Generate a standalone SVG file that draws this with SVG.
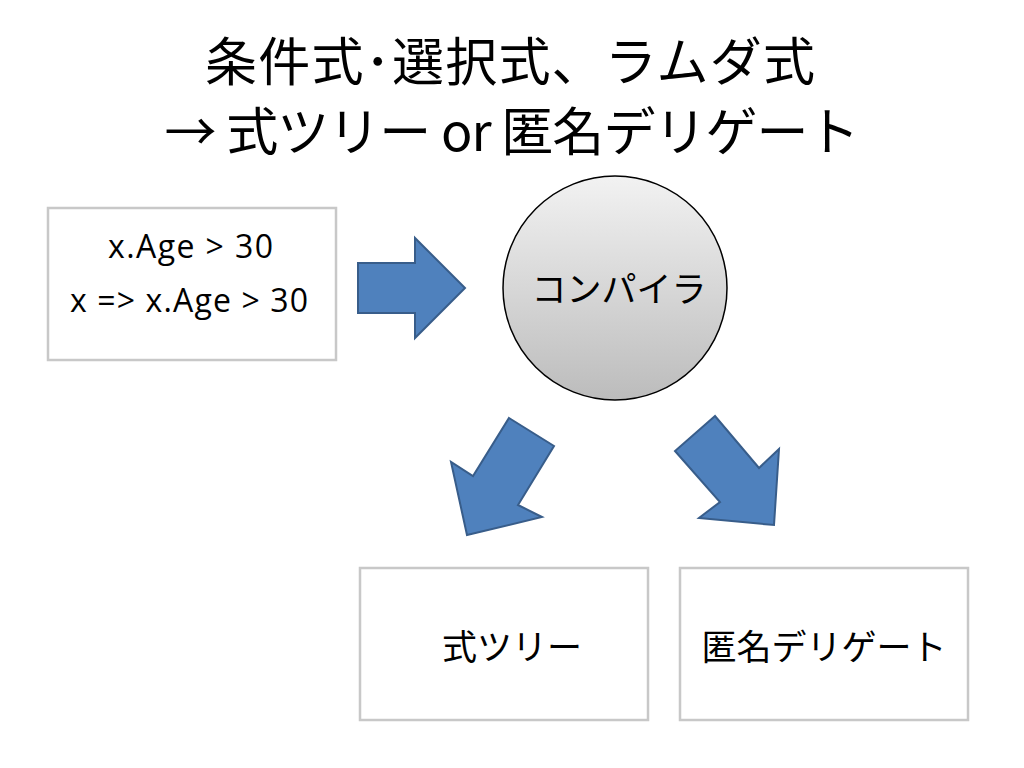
<svg xmlns="http://www.w3.org/2000/svg" width="1024" height="768" viewBox="0 0 1024 768">
<defs>
<linearGradient id="g" x1="0" y1="0" x2="0" y2="1">
<stop offset="0" stop-color="#f2f2f2"/>
<stop offset="1" stop-color="#bcbcbc"/>
</linearGradient>
<style>
.box{fill:#fff;stroke:#c8c8c8;stroke-width:2.5}
.arrow{fill:#4f81bd;stroke:#385d8a;stroke-width:2;stroke-linejoin:miter}
.jp{font-family:"Noto Sans CJK JP","Noto Sans",sans-serif;fill:#000}
.en{font-family:"Open Sans","Liberation Sans",sans-serif;fill:#000}
</style>
</defs>
<rect width="1024" height="768" fill="#fff"/>
<g id="title">
<text class="jp" x="510" y="81" font-size="52" text-anchor="middle" textLength="610" lengthAdjust="spacing">条件式･選択式、ラムダ式</text>
<text class="jp" x="512" y="151" font-size="52" text-anchor="middle" textLength="695" lengthAdjust="spacing">→ 式ツリー or 匿名デリゲート</text>
</g>
<g id="source">
<rect class="box" x="48" y="208" width="288" height="152"/>
<text class="en" x="190.5" y="258" font-size="32" text-anchor="middle" textLength="165" lengthAdjust="spacing">x.Age &gt; 30</text>
<text class="en" x="189" y="312" font-size="32" text-anchor="middle" textLength="238" lengthAdjust="spacing">x =&gt; x.Age &gt; 30</text>
</g>
<g id="compiler">
<circle cx="615" cy="288" r="112" fill="url(#g)" stroke="#000" stroke-width="1.5"/>
<text class="jp" x="619" y="302" font-size="35" text-anchor="middle">コンパイラ</text>
</g>
<g id="expression-tree">
<rect class="box" x="360" y="568" width="288" height="152"/>
<text class="jp" x="512" y="660" font-size="35" text-anchor="middle">式ツリー</text>
</g>
<g id="anonymous-delegate">
<rect class="box" x="680" y="568" width="288" height="152"/>
<text class="jp" x="824" y="660" font-size="35" text-anchor="middle">匿名デリゲート</text>
</g>
<g id="connectors">
<polygon class="arrow" points="358,263 415,263 415,238 465,288 415,338 415,313 358,313"/>
<polygon class="arrow" points="509,418 554,446 518,505 542,517 467,535 451,462 473,476"/>
<polygon class="arrow" points="715,416 675,451 720,502 699,518 774,525 779,449 759,468"/>
</g>
</svg>
